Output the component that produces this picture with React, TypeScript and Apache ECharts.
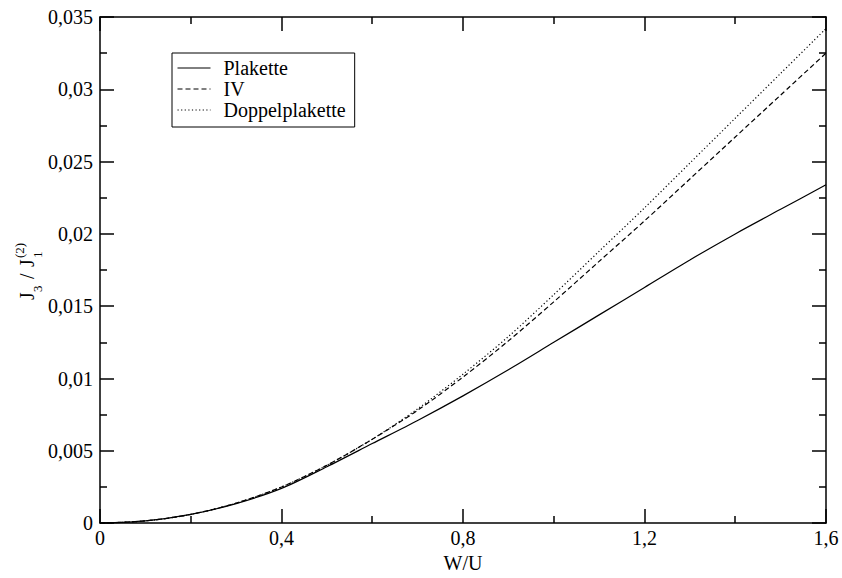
import React, { useEffect, useRef } from "react";
import * as echarts from "echarts";

const xValues = [0, 0.1, 0.2, 0.3, 0.4, 0.5, 0.6, 0.7, 0.8, 0.9, 1.0, 1.1, 1.2, 1.3, 1.4, 1.5, 1.6];
const plakette = [0, 0.00015, 0.0006, 0.00135, 0.0024, 0.0039, 0.0055, 0.0071, 0.0088, 0.0106, 0.0125, 0.0144, 0.0163, 0.0182, 0.02, 0.0217, 0.0234];
const iv = [0, 0.00015, 0.0006, 0.00138, 0.0025, 0.004, 0.0058, 0.0078, 0.0101, 0.0126, 0.0153, 0.0181, 0.0209, 0.0238, 0.0267, 0.0296, 0.0325];
const doppelplakette = [0, 0.00015, 0.0006, 0.00138, 0.0025, 0.004, 0.0058, 0.0079, 0.0103, 0.0129, 0.0158, 0.0188, 0.0218, 0.0249, 0.028, 0.0311, 0.0342];
const seriesNames = ["Plakette", "IV", "Doppelplakette"];
const xTitle = "W/U";

const FONT = "'Liberation Serif', serif";

const fmt = (v: number) => String(Number(v.toFixed(4))).replace(".", ",");

export default function App() {
  const ref = useRef<HTMLDivElement>(null);
  useEffect(() => {
    if (!ref.current) return;
    const chart = echarts.init(ref.current, undefined, { renderer: "svg" });
    const pairs = (ys: number[]) => xValues.map((x, i) => [x, ys[i]]);
    const axisCommon = {
      axisLine: { show: true, onZero: false, lineStyle: { color: "#000", width: 1.5 } },
      axisTick: { show: true, inside: true, length: 14, lineStyle: { color: "#000", width: 1.5 } },
      minorTick: { show: true, splitNumber: 2, length: 7, lineStyle: { color: "#000", width: 1.5 } },
      splitLine: { show: false },
      minorSplitLine: { show: false },
    };
    const lineSeries = (name: string, ys: number[], type: any) => ({
      name,
      type: "line",
      data: pairs(ys),
      smooth: 0.3,
      symbol: "none",
      showSymbol: false,
      lineStyle: { color: "#000", width: 1.2, type },
      itemStyle: { color: "#000" },
      xAxisIndex: 0,
      yAxisIndex: 0,
    });
    const sub = (text: string, x: number, y: number, size: number) => ({
      type: "text",
      x,
      y,
      style: { text, fontFamily: FONT, fontSize: size, fill: "#000", verticalAlign: "middle", align: "left" },
    });
    chart.setOption({
      animation: false,
      backgroundColor: "#fff",
      textStyle: { fontFamily: FONT },
      grid: { left: 100, right: 16, top: 17, bottom: 53, containLabel: false },
      legend: {
        orient: "vertical",
        left: 172,
        top: 53,
        itemWidth: 33,
        itemHeight: 14,
        itemGap: 1,
        padding: [5, 9, 7, 5],
        borderColor: "#000",
        borderWidth: 1,
        data: seriesNames,
        itemStyle: { color: "transparent", borderWidth: 0, opacity: 0 },
        lineStyle: { width: 1 },
        textStyle: { fontFamily: FONT, fontSize: 20, color: "#000", padding: [0, 0, 0, 8] },
      },
      xAxis: [
        {
          type: "value",
          min: 0,
          max: 1.6,
          interval: 0.4,
          position: "bottom",
          name: xTitle,
          nameLocation: "middle",
          nameGap: 27,
          nameTextStyle: { fontFamily: FONT, fontSize: 20, color: "#000" },
          axisLabel: { formatter: fmt, fontFamily: FONT, fontSize: 20, color: "#000", margin: 5 },
          ...axisCommon,
        },
        {
          type: "value",
          min: 0,
          max: 1.6,
          interval: 0.4,
          position: "top",
          axisLabel: { show: false },
          ...axisCommon,
        },
      ],
      yAxis: [
        {
          type: "value",
          min: 0,
          max: 0.035,
          interval: 0.005,
          position: "left",
          axisLabel: { formatter: fmt, fontFamily: FONT, fontSize: 20, color: "#000", margin: 7 },
          ...axisCommon,
        },
        {
          type: "value",
          min: 0,
          max: 0.035,
          interval: 0.005,
          position: "right",
          axisLabel: { show: false },
          ...axisCommon,
        },
      ],
      graphic: [
        {
          type: "group",
          x: 33,
          y: 300,
          rotation: Math.PI / 2,
          children: [
            sub("J", 0, -6.5, 20),
            sub("3", 8, 4.5, 13),
            sub("/", 21, -6.5, 20),
            sub("J", 33, -6.5, 20),
            sub("1", 42, 4.5, 13),
            sub("(2)", 42, -14, 13),
          ],
        },
      ],
      series: [
        lineSeries(seriesNames[0], plakette, "solid"),
        lineSeries(seriesNames[1], iv, [5, 3]),
        lineSeries(seriesNames[2], doppelplakette, [1.2, 2.4]),
      ],
    });
    return () => chart.dispose();
  }, []);
  return <div ref={ref} style={{ width: 842, height: 578, position: "absolute", left: 0, top: 0 }} />;
}
